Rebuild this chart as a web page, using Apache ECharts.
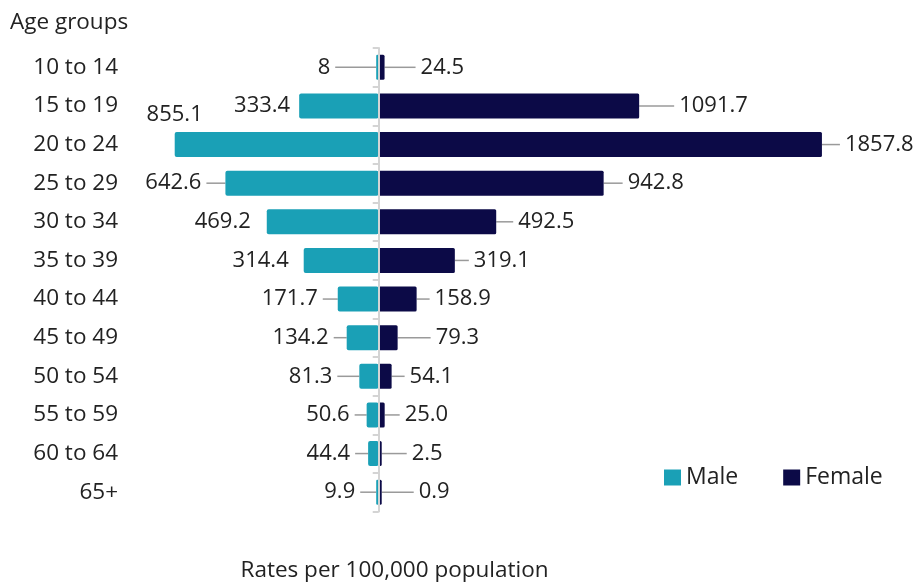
<!DOCTYPE html>
<html>
<head>
<meta charset="utf-8">
<script src="https://cdn.jsdelivr.net/npm/echarts@6/dist/echarts.min.js"></script>
<style>html,body{margin:0;padding:0;background:#fff;}#chart{width:917px;height:587px;}</style>
</head>
<body>
<div id="chart"></div>
<script>
// ---- data ----
const categories = ["10 to 14","15 to 19","20 to 24","25 to 29","30 to 34","35 to 39","40 to 44","45 to 49","50 to 54","55 to 59","60 to 64","65+"];
const maleValues = ["8","333.4","855.1","642.6","469.2","314.4","171.7","134.2","81.3","50.6","44.4","9.9"];
const femaleValues = ["24.5","1091.7","1857.8","942.8","492.5","319.1","158.9","79.3","54.1","25.0","2.5","0.9"];
const seriesNames = ["Male", "Female"];
const yTitle = "Age groups";
const xTitle = "Rates per 100,000 population";

// ---- label layout (pixel gaps between bar end and label text, leader line flag) ----
const maleGap  = [46, 9, -28, 24, 16, 15, 20, 18, 27, 17, 18, 21];
const maleDy   = [0, 0, -30, 0, 0, 0, 0, 0, 0, 0, 0, 0];
const maleLine = [1, 0, 0, 1, 0, 0, 1, 1, 1, 1, 1, 1];
const femaleGap = [36, 40, 23, 24, 22, 19, 18, 38, 18, 20, 30, 37];
const PAD = 5;

const FONT = '"Open Sans", "Noto Sans", sans-serif';
const TXT = '#222222';
const MALE_C = '#1aa0b6';
const FEMALE_C = '#0c0a47';

const maleData = maleValues.map((s, i) => ({
  value: -parseFloat(s),
  labelLine: { show: !!maleLine[i] }
}));
const femaleData = femaleValues.map(s => ({ value: parseFloat(s) }));

const chart = echarts.init(document.getElementById('chart'));
const labelLineStyle = { show: true, lineStyle: { color: '#9a9a9a', width: 1.5 } };

chart.setOption({
  animation: false,
  backgroundColor: '#ffffff',
  textStyle: { fontFamily: FONT },
  title: {
    text: yTitle, left: 5, top: 6,
    textStyle: { fontFamily: FONT, fontSize: 22.5, fontWeight: 'normal', color: TXT }
  },
  legend: {
    data: seriesNames, left: 659, top: 461, icon: 'rect',
    itemWidth: 17, itemHeight: 16, itemGap: 45,
    textStyle: { fontFamily: FONT, fontSize: 23, color: TXT }
  },
  graphic: [{
    type: 'text', x: 394.5, y: 571,
    style: { text: xTitle, textAlign: 'center', textVerticalAlign: 'middle',
             font: '22.5px ' + FONT, fill: TXT }
  }],
  grid: { left: 164, width: 668, top: 48, height: 463.5 },
  xAxis: { type: 'value', min: -900, max: 1900, show: false },
  yAxis: [{
    type: 'category', data: categories, inverse: true, position: 'left',
    axisLine: { show: false, onZero: false }, axisTick: { show: false },
    axisLabel: { margin: 46, fontFamily: FONT, fontSize: 22.5, color: TXT }
  }, {
    type: 'category', data: categories, inverse: true, position: 'left', z: 5,
    axisLine: { show: true, onZero: true, lineStyle: { color: '#d4d4d4', width: 2 } },
    axisTick: { show: true, length: 6, lineStyle: { color: '#d4d4d4', width: 2 } },
    axisLabel: { show: false }
  }],
  series: [{
    name: seriesNames[0], type: 'bar', yAxisIndex: 0, data: maleData,
    barWidth: 25, barGap: '-100%', barMinHeight: 2.5,
    itemStyle: { color: MALE_C, borderRadius: 2 },
    label: {
      show: true, position: 'left', distance: 5, padding: [0, PAD],
      backgroundColor: 'rgba(255,255,255,0)',
      fontFamily: FONT, fontSize: 22, color: TXT,
      formatter: p => maleValues[p.dataIndex]
    },
    labelLine: labelLineStyle,
    labelLayout: p => {
      const i = p.dataIndex;
      const targetRight = p.rect.x - maleGap[i] + PAD;
      return { dx: targetRight - (p.labelRect.x + p.labelRect.width), dy: maleDy[i] };
    }
  }, {
    name: seriesNames[1], type: 'bar', yAxisIndex: 0, data: femaleData,
    barWidth: 25, barGap: '-100%', barMinHeight: 3,
    itemStyle: { color: FEMALE_C, borderRadius: 1.5 },
    label: {
      show: true, position: 'right', distance: 5, padding: [0, PAD],
      backgroundColor: 'rgba(255,255,255,0)',
      fontFamily: FONT, fontSize: 22, color: TXT,
      formatter: p => femaleValues[p.dataIndex]
    },
    labelLine: labelLineStyle,
    labelLayout: p => {
      const i = p.dataIndex;
      const targetLeft = p.rect.x + p.rect.width + femaleGap[i] - PAD;
      return { dx: targetLeft - p.labelRect.x, dy: 0 };
    }
  }]
});
</script>
</body>
</html>
